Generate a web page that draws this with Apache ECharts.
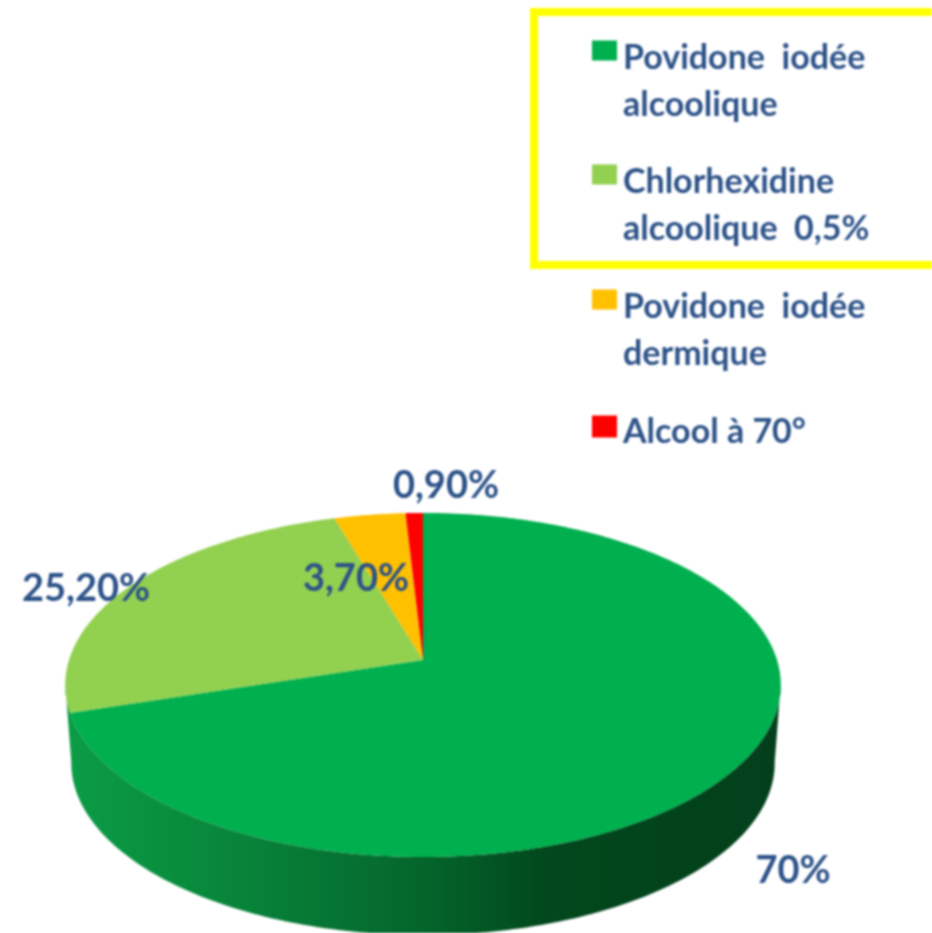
<!DOCTYPE html>
<html><head><meta charset="utf-8">
<style>html,body{margin:0;background:#fff}#c{width:932px;height:933px;filter:blur(.8px)}</style>
<script src="https://cdn.jsdelivr.net/npm/echarts@6/dist/echarts.min.js"></script>
</head><body><div id="c"></div>
<script>
const names = ['Povidone  iodée\nalcoolique', 'Chlorhexidine\nalcoolique  0,5%', 'Povidone  iodée\ndermique', 'Alcool à 70°'];
const values = [70, 25.2, 3.7, 0.9];
const valueLabels = ['70%', '25,20%', '3,70%', '0,90%'];
const colors = ['#00AF4E', '#92D050', '#FFC000', '#FF0000'];

const total = values.reduce((a, b) => a + b, 0);
const TEXT = '#2C5288', FONT = 'Lato';
// projection of the flat disc onto the tilted view
const AX = 423, AY = 660, A = 168.4, B = 354, C = -0.145, DEPTH = 78, SHRINK = 0.983;
function proj(deg, lower) {
  const t = deg * Math.PI / 180, x = Math.sin(t), y = -Math.cos(t), d = 1 + C * y;
  const k = lower ? SHRINK : 1;
  return [AX + B * x / d * k, AY + A * y / d + (lower ? DEPTH : 0)];
}
const labelPos = [[793, 871], [86, 589], [356, 579], [446, 486]];
const legendPos = [[592, 41, 2], [592, 165, 2], [592, 290, 2], [592, 415, 1]];

function renderSlice(params, api) {
  const i = params.seriesIndex;
  const before = values.slice(0, i).reduce((a, b) => a + b, 0);
  const a0 = before / total * 360, a1 = (before + api.value(0)) / total * 360;
  const children = [];
  if (i === 0) {
    const wall = [];
    for (let d = 262; d >= 98; d -= 1) wall.push(proj(d));
    for (let d = 98; d <= 262; d += 1) wall.push(proj(d, true));
    children.push({
      type: 'polygon', shape: { points: wall },
      style: { fill: new echarts.graphic.LinearGradient(0, 0, 1, 0, [
        { offset: 0, color: '#0C9C46' }, { offset: 0.12, color: '#09913F' },
        { offset: 0.33, color: '#077A36' }, { offset: 0.5, color: '#04652B' },
        { offset: 0.67, color: '#02481D' }, { offset: 1, color: '#033F1B' }]) }
    });
  }
  const pts = [[AX, AY]];
  for (let d = a0; d < a1; d += 0.5) pts.push(proj(d));
  pts.push(proj(a1));
  children.push({ type: 'polygon', shape: { points: pts }, style: { fill: colors[i] } });
  children.push({
    type: 'text', z2: 10,
    style: { x: labelPos[i][0], y: labelPos[i][1], text: valueLabels[i], fill: TEXT,
      font: '700 38px ' + FONT, align: 'center', verticalAlign: 'middle' }
  });
  return { type: 'group', children };
}

const option = {
  animation: false,
  backgroundColor: '#fff',
  graphic: [{ type: 'rect', z: -1, shape: { x: 534, y: 12, width: 420, height: 253 },
    style: { fill: '#fff', stroke: '#FFFF00', lineWidth: 8 } }],
  legend: names.map((n, i) => {
    const two = legendPos[i][2] === 2;
    return {
      data: [{ name: n, icon: two ? 'path://M0 0H25V20H0ZM0 0L0 83Z' : 'path://M0 0H25V22H0ZM0 0L0 34Z' }],
      left: legendPos[i][0], top: legendPos[i][1] - 6, orient: 'vertical',
      padding: 0, selectedMode: false, itemWidth: 25, itemHeight: two ? 83 : 34, itemGap: 0,
      itemStyle: { borderWidth: 0 },
      textStyle: { color: TEXT, fontFamily: FONT, fontWeight: 700, fontSize: 34, lineHeight: 47, padding: [0, 0, 0, 1] }
    };
  }),
  series: names.map((n, i) => ({
    type: 'custom', name: n, coordinateSystem: 'none', silent: true,
    itemStyle: { color: colors[i] }, data: [[values[i]]], renderItem: renderSlice
  }))
};
echarts.init(document.getElementById('c'), null, { renderer: 'canvas' }).setOption(option);
</script></body></html>
